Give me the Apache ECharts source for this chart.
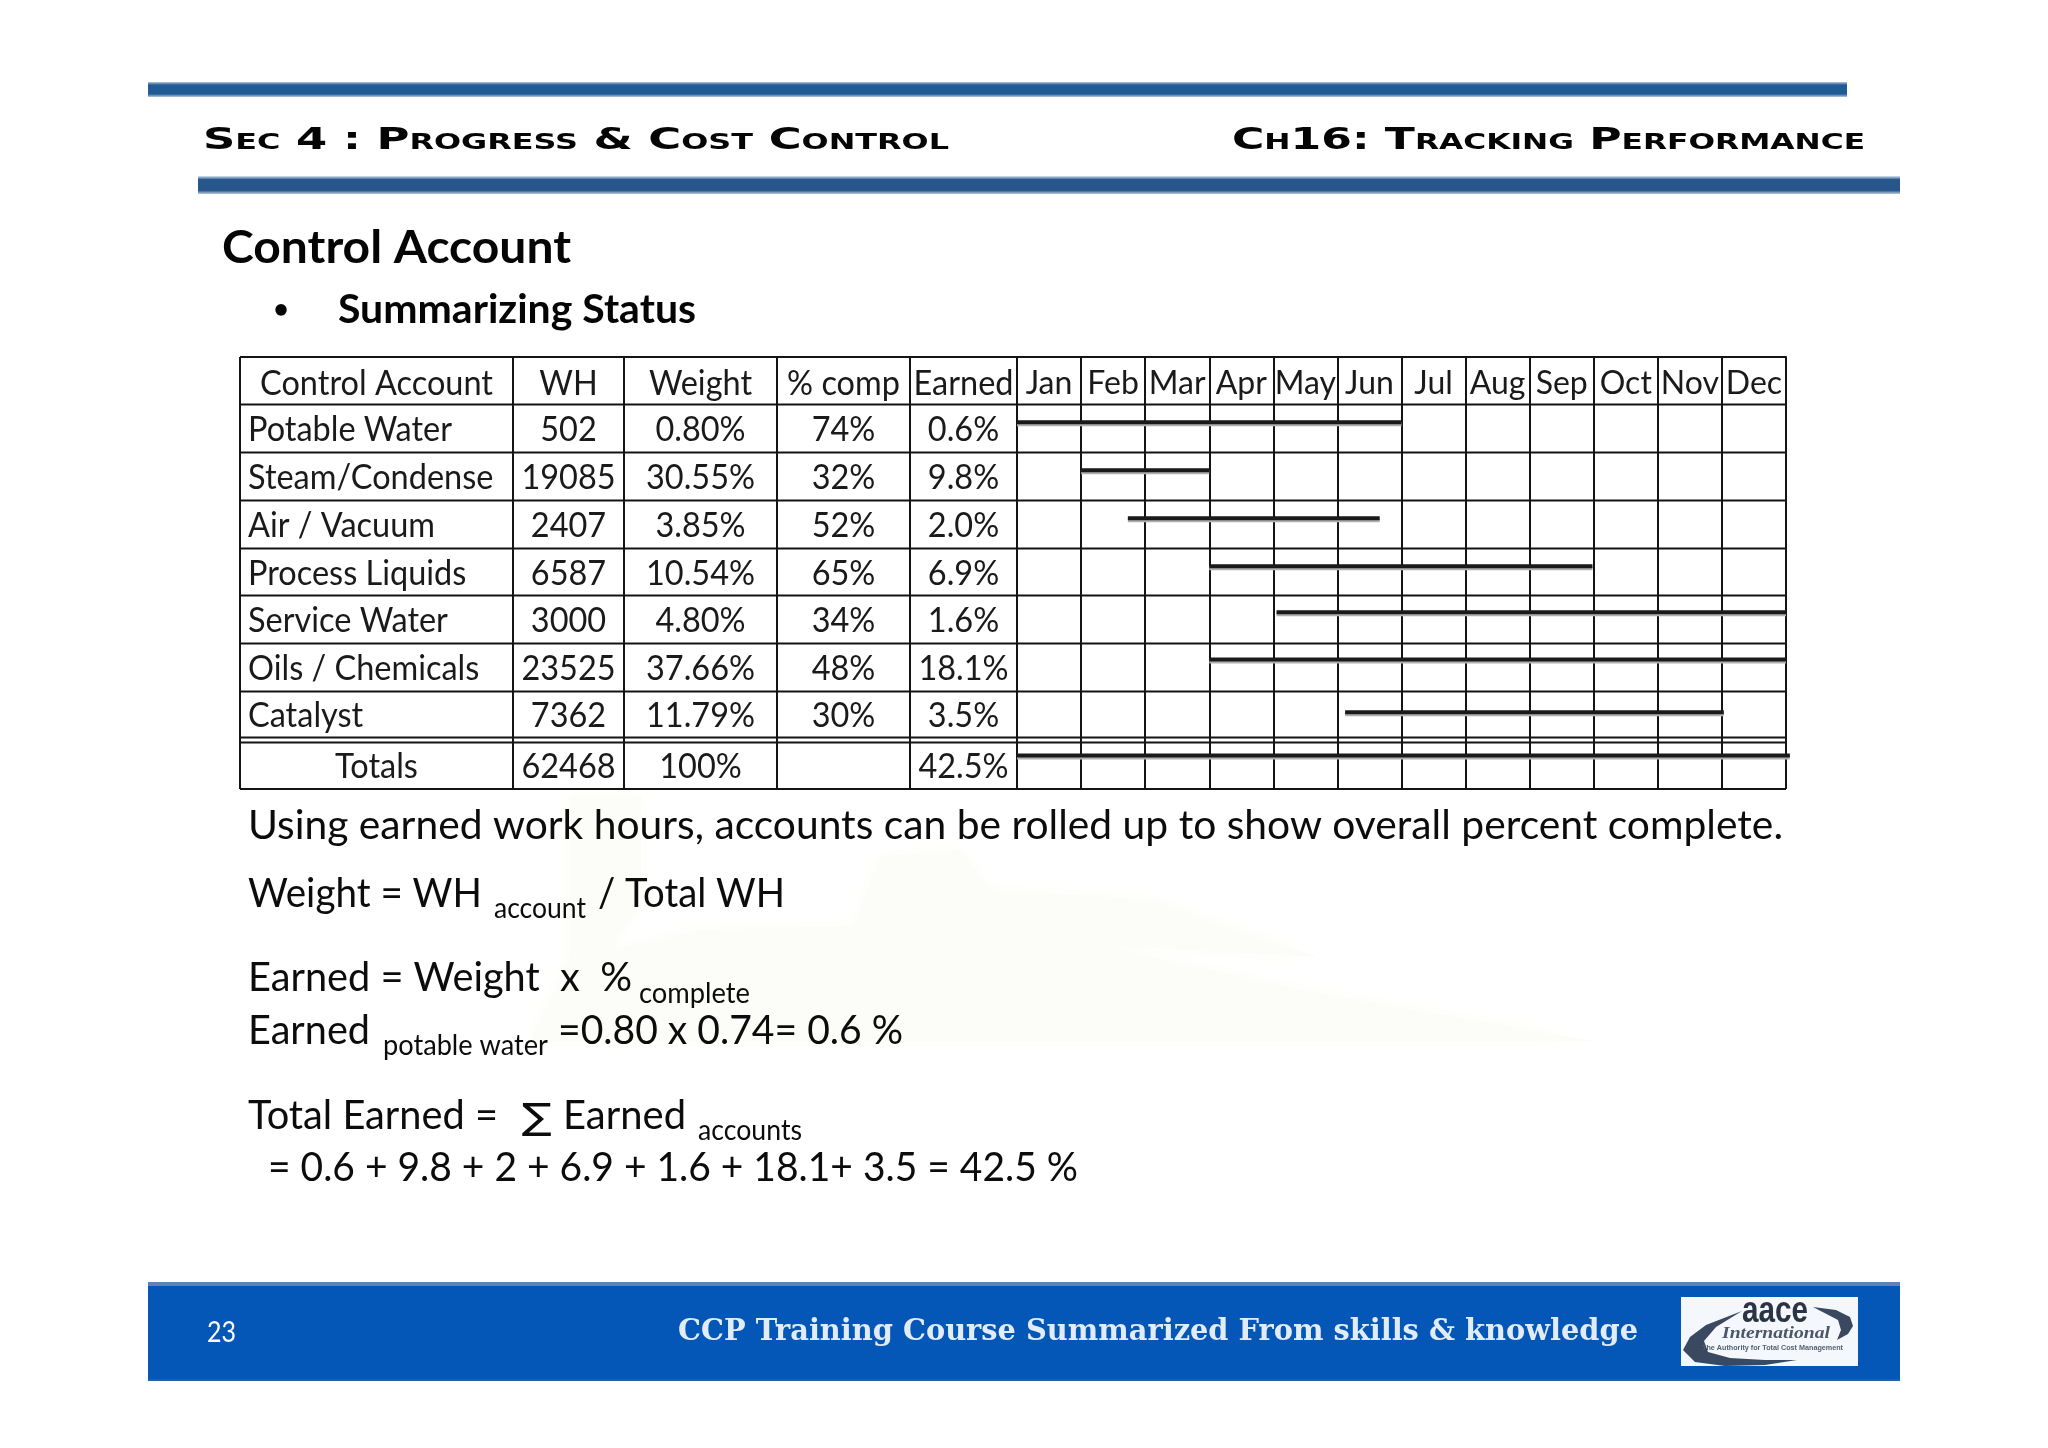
<!DOCTYPE html>
<html><head><meta charset="utf-8">
<style>html,body{margin:0;padding:0;background:#fff}#c{width:2048px;height:1448px}</style>
<script src="https://cdn.jsdelivr.net/npm/echarts@6/dist/echarts.min.js"></script>
</head><body><div id="c"></div>
<script>
// ---------- data ----------
const tableHeader = ['Control Account','WH','Weight','% comp','Earned'];
const accounts = ['Potable Water','Steam/Condense','Air / Vacuum','Process Liquids','Service Water','Oils / Chemicals','Catalyst'];
const workHours = ['502','19085','2407','6587','3000','23525','7362'];
const weights = ['0.80%','30.55%','3.85%','10.54%','4.80%','37.66%','11.79%'];
const percentComplete = ['74%','32%','52%','65%','34%','48%','30%'];
const earned = ['0.6%','9.8%','2.0%','6.9%','1.6%','18.1%','3.5%'];
const totalsRow = ['Totals','62468','100%','','42.5%'];
const months = ['Jan','Feb','Mar','Apr','May','Jun','Jul','Aug','Sep','Oct','Nov','Dec'];
// schedule bars, in months from start of Jan
const ganttStart = [0,1,1.73,3,4.05,3,5.12,0];
const ganttEnd   = [6,3,5.66,8.98,12,12,11.03,12.06];
const ganttRow   = [1.36,2.36,3.36,4.36,5.32,6.3,7.4,8.3];
// table rules
const rowRules = [0,0.99,1.99,2.99,3.99,4.968,5.968,6.968,7.927,8.031,9];
const rowCenters = [0.57,1.53,2.53,3.53,4.53,5.5,6.5,7.49,8.54];
const colRules = [0,273,384,537,670,777];
const colCenters = [136.5,328.5,460.5,603.5,723.5];
const ROWLABEL_X = 8;

// ---------- layout & helpers ----------
const W=2048,H=1448;
const FONT='Lato, Carlito, Calibri, sans-serif';
const chart=echarts.init(document.getElementById('c'),null,{renderer:'canvas',width:W,height:H});
const mctx=document.createElement('canvas').getContext('2d');
function fit(text,font,w){mctx.font=font;return w/mctx.measureText(text).width;}
function baseOff(font){mctx.font=font;mctx.textBaseline='middle';const d=mctx.measureText('H').actualBoundingBoxDescent;mctx.textBaseline='alphabetic';return d;}
// text with left x, baseline y, fitted to a target width
function T(text,x,y,w,font,fill,extra){
  return {type:'text',x:x,y:y-baseOff(font),scaleX:w?fit(text,font,w):1,z:5,
    style:Object.assign({text:text,font:font,fill:fill||'#0c0c0c',textAlign:'left',verticalAlign:'middle'},extra||{})};
}
function bar(x,y,w,h,stops){
  return {type:'rect',x:x,y:y,z:2,shape:{width:w,height:h},style:{fill:new echarts.graphic.LinearGradient(0,0,0,1,stops)}};
}
function poly(points,fill,z,blur){
  return {type:'polygon',z:z,shape:{points:points},style:{fill:fill,shadowColor:blur?fill:'transparent',shadowBlur:blur||0}};
}
const body='41px '+FONT, sub='29px '+FONT;
const WM='#fcfcf8';
const graphics=[
  // watermark
  poly([[569,796],[641,796],[641,905],[600,960],[569,1000]],WM,0,18),
  poly([[569,960],[700,930],[900,925],[1100,945],[1300,990],[1594,1041],[530,1041]],WM,0,18),
  poly([[880,857],[960,850],[990,890],[1150,900],[1318,957],[1100,945],[850,935]],WM,0,18),
  // header bars
  bar(148,82,1699,15,[{offset:0,color:'#b9c4da'},{offset:.2,color:'#1f5b95'},{offset:.8,color:'#1f5b95'},{offset:1,color:'#b4cbe0'}]),
  bar(198,176,1702,18,[{offset:0,color:'#d6e7f2'},{offset:.2,color:'#27568c'},{offset:.8,color:'#27568c'},{offset:1,color:'#b9cde0'}]),
  T('Sec 4 : Progress & Cost Control',203,149,746,'small-caps bold 31px "DejaVu Sans"','#050505'),
  T('Ch16: Tracking Performance',1232,149,633,'small-caps bold 31px "DejaVu Sans"','#050505'),
  T('Control Account',222,263,349,'bold 46px '+FONT,'#050505'),
  T('•',273.5,318,0,'bold 26px '+FONT,'#050505'),
  T('Summarizing Status',338,323,358,'bold 40px '+FONT,'#050505'),
  // body text
  T('Using earned work hours, accounts can be rolled up to show overall percent complete.',248,839,1535,body),
  T('Weight = WH',248,907,234,body),
  T('account',494,918,92,sub),
  T('/ Total WH',598,907,187,body),
  T('Earned = Weight  x  %',248,991,384,body),
  T('complete',639,1003,111,sub),
  T('Earned',248,1044,122,body),
  T('potable water',383,1055,165,sub),
  T('=0.80 x 0.74= 0.6 %',558,1044,345,body),
  T('Total Earned =',248,1129,250,body),
  T('\u2211',522,1129,30,'36px "DejaVu Sans"'),
  T('Earned',563,1129,123,body),
  T('accounts',698,1140,104,sub),
  T('= 0.6 + 9.8 + 2 + 6.9 + 1.6 + 18.1+ 3.5 = 42.5 %',268,1181,810,body),
  // footer
  {type:'rect',z:2,shape:{x:148,y:1282,width:1752,height:99},style:{fill:'#0457b6'}},
  {type:'rect',z:2,shape:{x:148,y:1282,width:1752,height:4},style:{fill:'#5f83b3'}},
  {type:'rect',z:2,shape:{x:148,y:1379,width:1752,height:2},style:{fill:'#2d5d9c'}},
  T('23',207,1342,29,'28px '+FONT,'#ffffff'),
  T('CCP Training Course Summarized From skills & knowledge',678,1340,960,'bold 30px "DejaVu Serif"','#e2ecf7',{shadowColor:'#022d66',shadowBlur:1,shadowOffsetX:1,shadowOffsetY:1}),
  // logo
  {type:'rect',z:3,shape:{x:1681,y:1297,width:177,height:69},style:{fill:'#f4f8fc'}},
  poly([[1683,1350],[1690,1337],[1706,1325],[1742,1311],[1716,1327],[1704,1341],[1708,1352],[1730,1358],[1765,1360],[1797,1360],[1765,1365],[1725,1366],[1695,1362]],'#3a4860',4),
  poly([[1813,1307],[1836,1310],[1850,1317],[1853,1326],[1848,1334],[1837,1340],[1841,1330],[1838,1320]],'#3a4860',4),
  T('aace',1742,1322,66,'bold 36px "Liberation Sans Narrow","Liberation Sans"','#2b3445'),
  T('International',1722,1338,108,'italic bold 17px "Liberation Serif"','#4b5669'),
  T('The Authority for Total Cost Management',1702,1350,141,'bold 8px "Liberation Sans"','#555f70')
];

// ---------- table cell items ----------
const cellItems=[];
tableHeader.forEach((t,c)=>cellItems.push([colCenters[c],rowCenters[0],t,'center']));
accounts.forEach((t,i)=>{
  const r=rowCenters[i+1];
  cellItems.push([ROWLABEL_X,r,t,'left']);
  cellItems.push([colCenters[1],r,workHours[i],'center']);
  cellItems.push([colCenters[2],r,weights[i],'center']);
  cellItems.push([colCenters[3],r,percentComplete[i],'center']);
  cellItems.push([colCenters[4],r,earned[i],'center']);
});
totalsRow.forEach((t,c)=>{ if(t) cellItems.push([colCenters[c],rowCenters[8],t,'center']); });

const cellFont='34px '+FONT;
function renderRuleH(params,api){
  const y=api.value(0), cs=params.coordSys;
  const p=api.coord([params.seriesIndex===1?777:12,y]);
  return {type:'line',shape:{x1:cs.x,y1:p[1],x2:cs.x+cs.width,y2:p[1]},style:{stroke:'#141414',lineWidth:2}};
}
const option={
  animation:false,backgroundColor:'#ffffff',
  graphic:{elements:graphics},
  grid:[
    {left:240,top:357,width:777,height:432,containLabel:false},
    {left:1017,top:357,width:769,height:432,containLabel:false}
  ],
  xAxis:[
    {gridIndex:0,type:'value',min:0,max:777,show:false},
    {gridIndex:1,type:'category',data:months,position:'top',boundaryGap:true,
      axisLine:{show:true,lineStyle:{color:'#141414',width:2}},axisTick:{show:false},
      axisLabel:{inside:true,interval:0,margin:11,color:'#1a1a1a',fontFamily:FONT,fontSize:32,verticalAlign:'top'},
      splitLine:{show:true,interval:0,lineStyle:{color:'#141414',width:2}}},
    {gridIndex:1,type:'value',min:0,max:12,show:false}
  ],
  yAxis:[
    {gridIndex:0,type:'value',min:0,max:9,inverse:true,show:false},
    {gridIndex:1,type:'value',min:0,max:9,inverse:true,show:false}
  ],
  series:[
    {type:'custom',xAxisIndex:0,yAxisIndex:0,z:3,silent:true,data:colRules.map(x=>[x]),encode:{x:0},clip:false,
      renderItem:(params,api)=>{const cs=params.coordSys,p=api.coord([api.value(0),0]);
        return {type:'line',shape:{x1:p[0],y1:cs.y,x2:p[0],y2:cs.y+cs.height},style:{stroke:'#141414',lineWidth:2}};}},
    {type:'custom',xAxisIndex:0,yAxisIndex:0,z:4,silent:true,data:rowRules.map(y=>[y]),encode:{y:0},clip:false,renderItem:renderRuleH},
    {type:'custom',xAxisIndex:2,yAxisIndex:1,z:4,silent:true,data:rowRules.map(y=>[y]),encode:{y:0},clip:false,renderItem:renderRuleH},
    {type:'custom',xAxisIndex:0,yAxisIndex:0,z:6,silent:true,clip:false,data:cellItems,encode:{x:0,y:1},
      renderItem:(params,api)=>{const d=cellItems[params.dataIndex],p=api.coord([d[0],d[1]]);
        return {type:'text',x:p[0],y:p[1],scaleX:.955,style:{text:d[2],font:cellFont,fill:'#1a1a1a',textAlign:d[3],verticalAlign:'middle'}};}},
    {type:'custom',name:'Schedule',xAxisIndex:2,yAxisIndex:1,z:7,silent:true,clip:false,
      data:ganttStart.map((s,i)=>[s,ganttEnd[i],ganttRow[i]]),encode:{x:[0,1],y:2},
      renderItem:(params,api)=>{const a=api.coord([api.value(0),api.value(2)]),b=api.coord([api.value(1),api.value(2)]);
        return {type:'line',shape:{x1:a[0],y1:a[1],x2:b[0],y2:b[1]},
          style:{stroke:'#1a1a1a',lineWidth:4,shadowColor:'#b0b0b0',shadowOffsetY:2,shadowBlur:0}};}}
  ]
};
chart.setOption(option);
</script></body></html>
